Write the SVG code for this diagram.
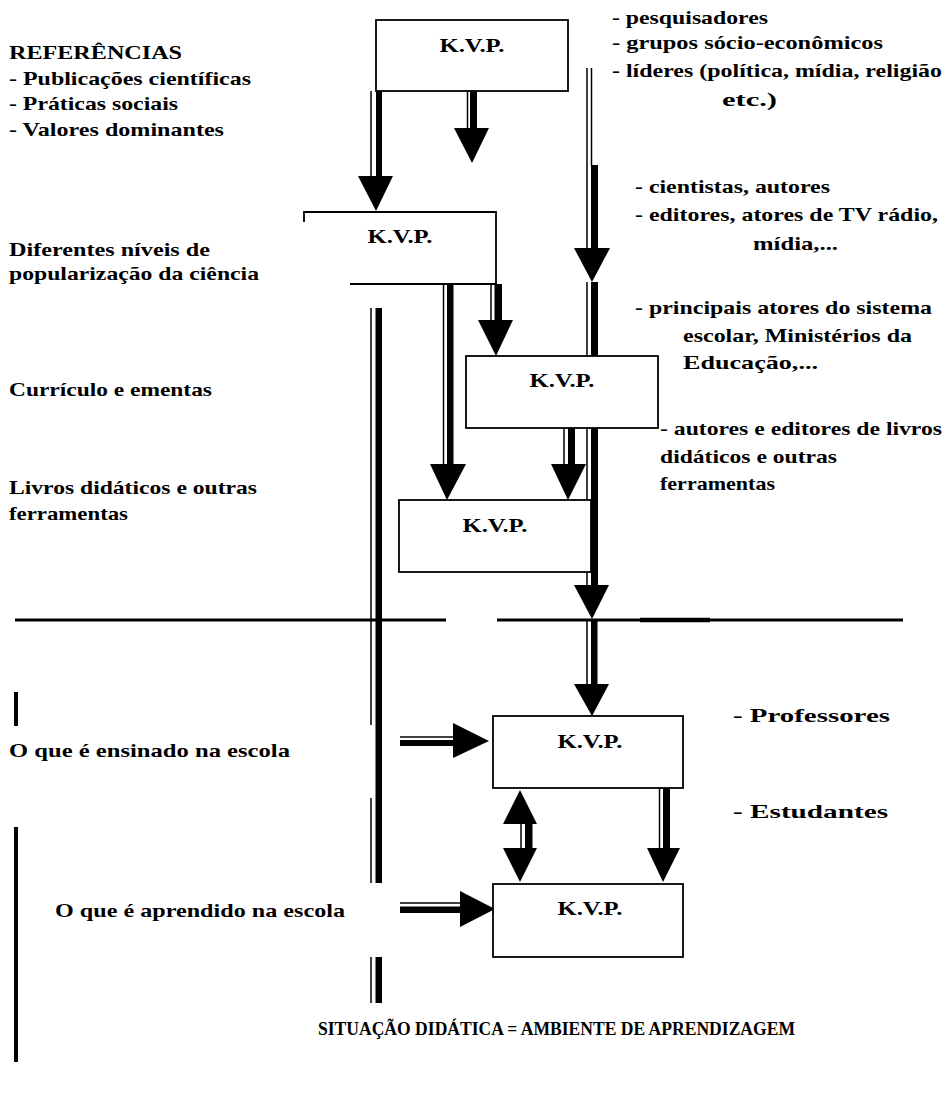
<svg xmlns="http://www.w3.org/2000/svg" width="945" height="1098" viewBox="0 0 945 1098">
<style>
text{font-family:'Liberation Serif','DejaVu Serif',serif;font-weight:700;font-size:19px;fill:#000}
.k{text-anchor:middle}
.box{fill:#fff;stroke:#000;stroke-width:1.8}
.ln{stroke:#000;stroke-width:1.8;fill:none}
.thin{stroke:#000;stroke-width:1.5;fill:none}
.thick{fill:#000}
.head{fill:#000}
.hl{stroke:#000;stroke-width:3;fill:none}
</style>
<rect width="945" height="1098" fill="#fff"/>
<g id="connectors">
  <line class="thin" x1="371" y1="91" x2="371" y2="177"/>
  <rect class="thick" x="376" y="91" width="6" height="86"/>
  <polygon class="head" points="358,176 393,176 376,211"/>
  <line class="thin" x1="467.5" y1="91" x2="467.5" y2="129"/>
  <rect class="thick" x="470" y="91" width="7" height="38"/>
  <polygon class="head" points="454,128 489,128 472,163"/>
  <line class="thin" x1="587" y1="68" x2="587" y2="249"/>
  <line class="thin" x1="591.5" y1="68" x2="591.5" y2="166"/>
  <rect class="thick" x="591" y="165" width="7" height="84"/>
  <polygon class="head" points="574,248 610,248 592,282"/>
  <line class="thin" x1="587" y1="282" x2="587" y2="586"/>
  <rect class="thick" x="591" y="282" width="7" height="304"/>
  <polygon class="head" points="574,585 609,585 592,619"/>
  <line class="thin" x1="587" y1="621" x2="587" y2="685"/>
  <rect class="thick" x="591" y="621" width="6.5" height="64"/>
  <polygon class="head" points="574,684 609,684 592,716"/>
  <line class="thin" x1="491" y1="284" x2="491" y2="321"/>
  <rect class="thick" x="494.5" y="284" width="7.5" height="37"/>
  <polygon class="head" points="478,320 513,320 496,356"/>
  <line class="thin" x1="443.5" y1="284" x2="443.5" y2="465"/>
  <rect class="thick" x="447" y="284" width="6.5" height="181"/>
  <polygon class="head" points="430,464 466,464 447,500"/>
  <line class="thin" x1="564" y1="428" x2="564" y2="465"/>
  <rect class="thick" x="568" y="428" width="7" height="37"/>
  <polygon class="head" points="551,464 586,464 568,500"/>
  <line class="thin" x1="371" y1="308" x2="371" y2="725"/>
  <rect class="thick" x="375.5" y="308" width="6.5" height="575"/>
  <line class="thin" x1="371" y1="798" x2="371" y2="883"/>
  <line class="thin" x1="371" y1="957" x2="371" y2="1003"/>
  <rect class="thick" x="375.5" y="957" width="6.5" height="46"/>
  <line class="hl" x1="15" y1="620" x2="446" y2="620"/>
  <line class="hl" x1="497" y1="620" x2="903" y2="620"/>
  <line stroke="#000" stroke-width="4.5" x1="640" y1="620" x2="710" y2="620"/>
  <line class="thin" x1="400" y1="737" x2="454" y2="737"/>
  <rect class="thick" x="400" y="740" width="54" height="6"/>
  <polygon class="head" points="453,723 453,758 489,741"/>
  <line class="thin" x1="400" y1="903" x2="461" y2="903"/>
  <rect class="thick" x="400" y="906.5" width="61" height="6.5"/>
  <polygon class="head" points="460,891 460,927 495,909"/>
  <polygon class="head" points="503,824 537,824 520,790"/>
  <line class="thin" x1="521" y1="823" x2="521" y2="849"/>
  <rect class="thick" x="525" y="823" width="7.5" height="26"/>
  <polygon class="head" points="503,848 537,848 520,882"/>
  <line class="thin" x1="659.5" y1="788" x2="659.5" y2="849"/>
  <rect class="thick" x="663" y="788" width="7" height="61"/>
  <polygon class="head" points="647,848 680,848 663,882"/>
  <rect class="thick" x="14" y="692" width="4" height="34"/>
  <rect class="thick" x="14" y="827" width="4" height="235"/>
</g>
<g id="box1">
  <rect class="box" x="376" y="20" width="192" height="71"/>
  <text class="k" x="472" y="52" textLength="65" lengthAdjust="spacingAndGlyphs">K.V.P.</text>
</g>
<g id="box2">
  <path class="ln" d="M304,222 V212 H496 V284 H350"/>
  <text class="k" x="400" y="243" textLength="65" lengthAdjust="spacingAndGlyphs">K.V.P.</text>
</g>
<g id="box3">
  <rect class="box" x="466" y="356" width="192" height="72"/>
  <text class="k" x="562" y="387" textLength="65" lengthAdjust="spacingAndGlyphs">K.V.P.</text>
</g>
<g id="box4">
  <rect class="box" x="399" y="500" width="192" height="72"/>
  <text class="k" x="495" y="532" textLength="65" lengthAdjust="spacingAndGlyphs">K.V.P.</text>
</g>
<g id="box5">
  <rect class="box" x="493" y="716" width="190" height="72"/>
  <text class="k" x="590" y="748" textLength="65" lengthAdjust="spacingAndGlyphs">K.V.P.</text>
</g>
<g id="box6">
  <rect class="box" x="493" y="884" width="190" height="73"/>
  <text class="k" x="590" y="915" textLength="65" lengthAdjust="spacingAndGlyphs">K.V.P.</text>
</g>
<g id="labels-left">
  <text x="9" y="59" textLength="173" lengthAdjust="spacingAndGlyphs">REFERÊNCIAS</text>
  <text x="9" y="85" textLength="242" lengthAdjust="spacingAndGlyphs">- Publicações científicas</text>
  <text x="9" y="110" textLength="169" lengthAdjust="spacingAndGlyphs">- Práticas sociais</text>
  <text x="9" y="136" textLength="215" lengthAdjust="spacingAndGlyphs">- Valores dominantes</text>
  <text x="9" y="256" textLength="201" lengthAdjust="spacingAndGlyphs">Diferentes níveis de</text>
  <text x="9" y="280" textLength="250" lengthAdjust="spacingAndGlyphs">popularização da ciência</text>
  <text x="9" y="396" textLength="203" lengthAdjust="spacingAndGlyphs">Currículo e ementas</text>
  <text x="9" y="494" textLength="248" lengthAdjust="spacingAndGlyphs">Livros didáticos e outras</text>
  <text x="9" y="520" textLength="119" lengthAdjust="spacingAndGlyphs">ferramentas</text>
  <text x="9" y="757" textLength="281" lengthAdjust="spacingAndGlyphs">O que é ensinado na escola</text>
  <text x="55" y="917" textLength="290" lengthAdjust="spacingAndGlyphs">O que é aprendido na escola</text>
  <text x="318" y="1035" textLength="477" lengthAdjust="spacingAndGlyphs">SITUAÇÃO DIDÁTICA = AMBIENTE DE APRENDIZAGEM</text>
</g>
<g id="labels-right">
  <text x="612" y="24" textLength="156" lengthAdjust="spacingAndGlyphs">- pesquisadores</text>
  <text x="612" y="49" textLength="271" lengthAdjust="spacingAndGlyphs">- grupos sócio-econômicos</text>
  <text x="612" y="77" textLength="330" lengthAdjust="spacingAndGlyphs">- líderes (política, mídia, religião</text>
  <text x="722" y="106" textLength="55" lengthAdjust="spacingAndGlyphs">etc.)</text>
  <text x="635" y="193" textLength="195" lengthAdjust="spacingAndGlyphs">- cientistas, autores</text>
  <text x="635" y="221" textLength="303" lengthAdjust="spacingAndGlyphs">- editores, atores de TV rádio,</text>
  <text x="753" y="250" textLength="85" lengthAdjust="spacingAndGlyphs">mídia,...</text>
  <text x="635" y="314" textLength="297" lengthAdjust="spacingAndGlyphs">- principais atores do sistema</text>
  <text x="683" y="342" textLength="229" lengthAdjust="spacingAndGlyphs">escolar, Ministérios da</text>
  <text x="683" y="369" textLength="135" lengthAdjust="spacingAndGlyphs">Educação,...</text>
  <text x="660" y="435" textLength="282" lengthAdjust="spacingAndGlyphs">- autores e editores de livros</text>
  <text x="660" y="463" textLength="177" lengthAdjust="spacingAndGlyphs">didáticos e outras</text>
  <text x="660" y="490" textLength="115" lengthAdjust="spacingAndGlyphs">ferramentas</text>
  <text x="733" y="722" textLength="157" lengthAdjust="spacingAndGlyphs">- Professores</text>
  <text x="733" y="818" textLength="155" lengthAdjust="spacingAndGlyphs">- Estudantes</text>
</g>
</svg>
